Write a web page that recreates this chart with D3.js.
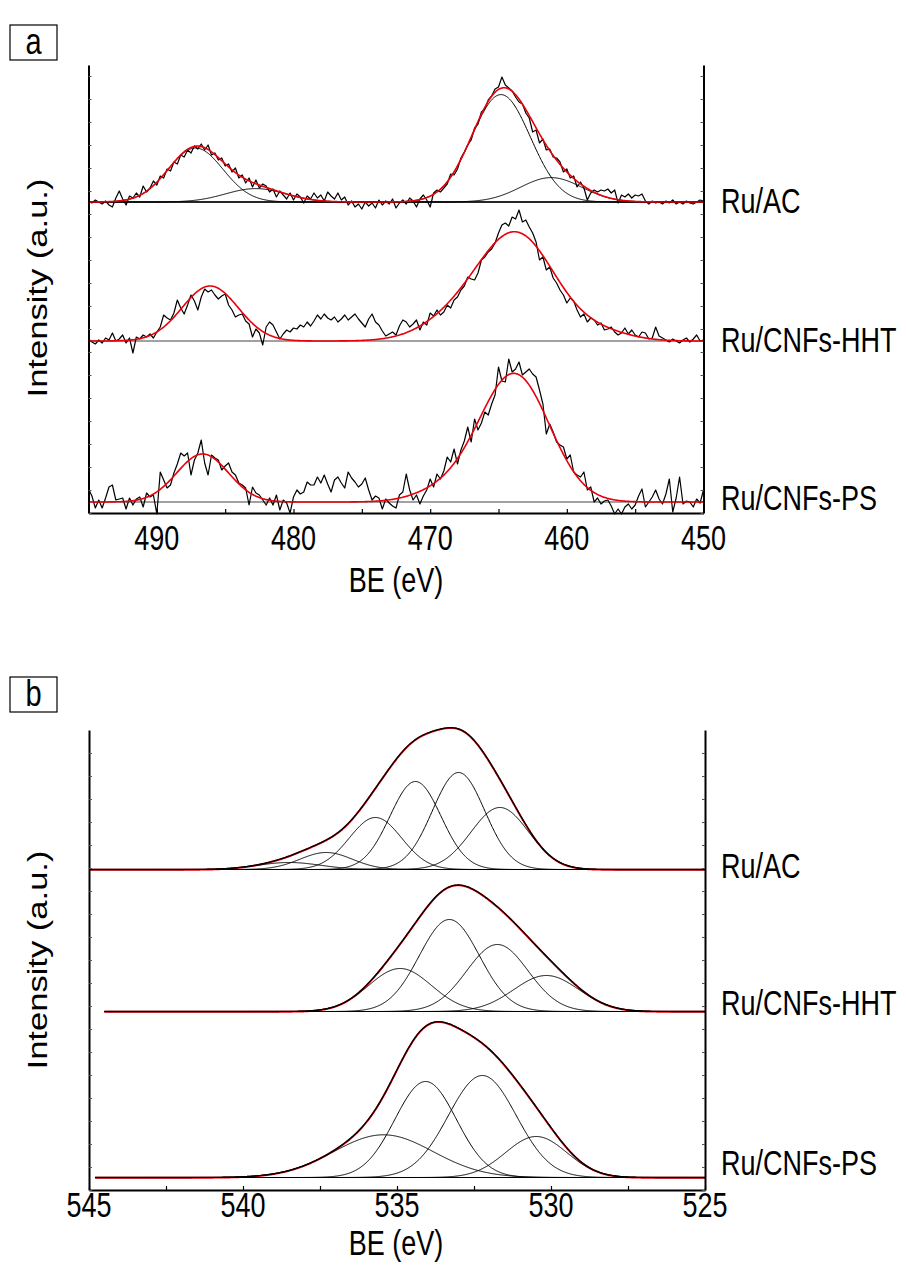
<!DOCTYPE html>
<html><head><meta charset="utf-8">
<script src="https://cdn.jsdelivr.net/npm/d3@7"></script>
<style>
body{margin:0;background:#fff}
svg text{font-family:"Liberation Sans",Arial,sans-serif;fill:#000}
</style>
</head><body>
<svg id="c" width="906" height="1266"></svg>
<script>
// ---------- DATA ----------
const samples = ["Ru/AC", "Ru/CNFs-HHT", "Ru/CNFs-PS"];
const panelLetters = ["a", "b"];
const axisTitleX = "BE (eV)";
const axisTitleY = "Intensity (a.u.)";

// Panel a : Ru 3d region
const ru3dDomain = [495, 450];
const ru3dMajorTicks = [490, 480, 470, 460, 450];
const ru3dMinorTicks = [495, 490, 485, 480, 475, 470, 465, 460, 455, 450];
const ru3dOffsets = [311, 172, 11];           // vertical stacking (intensity units)

// raw spectra, 495 -> 450 eV, equal steps
const rawAC = [
 1,-1,2,0,-2,1,-3,-5,4,11,
 3,-3,6,4,9,5,16,10,14,21,
 17,26,24,33,31,40,38,47,45,52,
 49,56,53,58,52,57,47,49,42,44,
 36,38,30,34,24,27,19,24,15,22,
 14,18,16,10,13,5,11,7,3,9,
 2,8,5,-1,6,3,9,4,7,1,
 10,6,3,9,2,5,-3,1,-5,-2,
 -7,0,-4,-1,-6,2,-3,1,-2,3,
 -6,-1,2,-2,4,1,-5,3,7,2,
 -5,9,12,10,14,18,28,27,33,44,
 50,57,62,74,78,90,93,102,106,113,
 115,125,117,114,111,105,100,98,89,84,
 70,72,59,63,52,53,45,44,40,30,
 33,24,26,15,20,14,2,9,12,10,
 12,11,13,9,12,-1,7,5,8,4,
 7,6,8,1,-2,1,-1,0,-2,1,
 -1,2,-2,0,-2,1,-1,-2,0,2,
 1];
const rawHHT = [
 2,-1,-3,1,-2,3,1,8,0,2,
 6,-2,3,-12,4,2,6,4,7,3,
 9,14,26,23,21,28,41,33,27,36,
 46,40,31,44,52,49,51,46,42,45,
 47,36,31,24,26,27,20,17,4,12,
 8,-4,14,19,16,9,2,7,11,9,
 13,12,16,14,19,15,20,26,22,27,
 23,21,24,19,22,26,21,24,27,22,
 18,14,22,27,19,16,10,5,7,9,
 6,15,21,19,14,17,21,11,19,16,
 28,25,31,26,29,36,33,41,44,51,
 55,64,62,61,68,81,84,89,92,98,
 108,116,118,115,124,122,131,119,121,114,
 108,99,81,84,71,74,63,58,51,46,
 38,43,40,31,24,27,19,23,21,16,
 18,11,12,14,9,6,8,13,7,11,
 6,4,9,8,2,3,14,5,3,1,
 -1,2,0,-2,1,3,-1,2,6,0,
 1];
const rawPS = [
 13,6,-6,2,-6,4,15,17,2,3,
 4,-7,4,-3,3,5,-5,9,5,7,
 -12,30,22,14,17,29,38,49,46,49,
 27,42,49,62,39,27,47,44,42,32,
 36,39,30,27,19,17,14,-3,15,9,
 7,2,-3,4,-3,7,-8,2,-1,-11,
 5,12,8,10,20,17,17,25,19,27,
 18,10,22,25,19,14,30,24,20,15,
 18,24,12,2,6,4,-7,3,-1,-4,
 -6,7,10,28,12,2,7,-2,6,12,
 23,15,28,23,31,45,40,53,38,52,
 61,75,60,83,72,79,90,87,98,107,
 135,121,120,143,130,133,140,127,130,133,
 128,125,112,98,68,78,70,60,57,55,
 43,47,30,27,25,30,12,15,0,4,
 -2,1,2,-4,-12,-7,-12,-5,-2,-7,
 -3,6,13,-5,0,5,12,3,-2,8,
 23,-10,4,25,-2,1,0,-5,3,-1,
 12];

// fitted components (centre eV, height, FWHM eV)
const ru3dAcCenters = [487.16, 482.77, 464.82, 461.15];
const ru3dAcHeights = [54, 13.4, 107.4, 24.4];
const ru3dAcFwhm    = [4.71, 5.18, 5.06, 5.27];
const ru3dHhtCenters = [486.1, 468.0, 463.6, 457.5];
const ru3dHhtHeights = [55, 20, 104, 8];
const ru3dHhtFwhm    = [4.83, 6.12, 6.48, 5.18];
const ru3dPsCenters = [486.65, 469.0, 463.85];
const ru3dPsHeights = [48, 10, 128];
const ru3dPsFwhm    = [4.47, 5.18, 6.03];

// Panel b : O 1s region
const o1sDomain = [545, 525];
const o1sMajorTicks = [545, 540, 535, 530, 525];
const o1sMinorTicks = [545, 542.5, 540, 537.5, 535, 532.5, 530, 527.5, 525];
const o1sOffsets = [320.5, 178.5, 12.5];
const o1sStart = [545, 544.5, 544.8];
const o1sAcCenters = [538.5, 537.3, 535.7, 534.4, 533.0, 531.66];
const o1sAcHeights = [7, 17, 52, 88, 97, 62];
const o1sAcFwhm    = [2.4, 2.0, 2.0, 1.95, 2.0, 2.2];
const o1sHhtCenters = [534.9, 533.3, 531.74, 530.15];
const o1sHhtHeights = [43, 92, 67, 36];
const o1sHhtFwhm    = [2.4, 2.3, 2.35, 2.5];
const o1sPsCenters = [535.44, 534.07, 532.23, 530.48];
const o1sPsHeights = [42.7, 96, 102, 41];
const o1sPsFwhm    = [3.8, 2.35, 2.6, 2.35];

// ---------- DRAW ----------
const svg = d3.select("#c");
const RED = "#e8000b";
const FS = 27, SY = 1.28;   // text size and vertical stretch of the original figure

function gauss(e, c, h, w) { return h * Math.exp(-4 * Math.LN2 * (e - c) * (e - c) / (w * w)); }
function comps(cs, hs, ws) { return cs.map((c, i) => ({c, h: hs[i], w: ws[i]})); }
function label(x, y, str, anchor, size, rot) {
  svg.append("text")
    .attr("transform", `translate(${x},${y}) scale(1,${SY})` + (rot ? " rotate(-90)" : ""))
    .attr("text-anchor", anchor).attr("font-size", size).text(str);
}

function frame(x, y, bottom, majors, minors, tickLen, labelY) {
  const gB = svg.append("g").attr("transform", `translate(0,${bottom})`)
    .call(d3.axisBottom(x).tickValues(minors).tickSizeInner(-tickLen).tickSizeOuter(0).tickFormat(""));
  gB.select(".domain").attr("stroke-width", 2);
  gB.selectAll(".tick line").attr("stroke-width", 1.2);
  majors.forEach(d => label(x(d), labelY, d, "middle", FS));
  const yt = d3.range(y.domain()[0], y.domain()[1], 23);
  const [xl, xr] = x.range();
  const gL = svg.append("g").attr("transform", `translate(${xl},0)`)
    .call(d3.axisLeft(y).tickValues(yt).tickSizeInner(-3).tickSizeOuter(0).tickFormat(""));
  gL.select(".domain").attr("stroke-width", 2);
  gL.selectAll(".tick line").attr("stroke", "#555");
  const gR = svg.append("g").attr("transform", `translate(${xr},0)`)
    .call(d3.axisRight(y).tickValues(yt).tickSizeInner(-3).tickSizeOuter(0).tickFormat(""));
  gR.select(".domain").attr("stroke-width", 2);
  gR.selectAll(".tick line").attr("stroke", "#555");
}

function letterBox(letter, x0, y0) {
  svg.append("rect").attr("x", x0).attr("y", y0).attr("width", 47).attr("height", 35)
    .attr("fill", "none").attr("stroke", "#000").attr("stroke-width", 1.2);
  label(x0 + 23.5, y0 + 29, letter, "middle", 29);
}

// ===== Panel a =====
const xa = d3.scaleLinear().domain(ru3dDomain).range([88.5, 703.5]);
const ya = d3.scaleLinear().domain([0, 448]).range([513, 65]);
const rawSets = [rawAC, rawHHT, rawPS];
const ru3dFits = [
  comps(ru3dAcCenters, ru3dAcHeights, ru3dAcFwhm),
  comps(ru3dHhtCenters, ru3dHhtHeights, ru3dHhtFwhm),
  comps(ru3dPsCenters, ru3dPsHeights, ru3dPsFwhm)
];
const gridA = d3.range(ru3dDomain[0], ru3dDomain[1] - 0.001, -0.05);
const labelDyA = [11, 11, 8];

rawSets.forEach((raw, k) => {
  const off = ru3dOffsets[k];
  const g = svg.append("g");
  g.append("line").attr("x1", xa(ru3dDomain[0])).attr("x2", xa(ru3dDomain[1]))
    .attr("y1", ya(off)).attr("y2", ya(off)).attr("stroke", k === 0 ? "#000" : "#444").attr("stroke-width", 1.2);
  if (k === 0) {
    ru3dFits[k].forEach(p => {
      g.append("path").datum(gridA).attr("fill", "none").attr("stroke", "#000").attr("stroke-width", 1)
        .attr("d", d3.line().x(e => xa(e)).y(e => ya(off + gauss(e, p.c, p.h, p.w))));
    });
  }
  const n = raw.length;
  const step = (ru3dDomain[0] - ru3dDomain[1]) / (n - 1);
  g.append("path").datum(raw).attr("fill", "none").attr("stroke", "#000").attr("stroke-width", 1.2)
    .attr("stroke-linejoin", "round")
    .attr("d", d3.line().x((v, i) => xa(ru3dDomain[0] - i * step)).y(v => ya(off + v)));
  g.append("path").datum(gridA).attr("fill", "none").attr("stroke", RED).attr("stroke-width", 1.6)
    .attr("d", d3.line().x(e => xa(e)).y(e => ya(off + d3.sum(ru3dFits[k], p => gauss(e, p.c, p.h, p.w)))));
  label(721, ya(off) + labelDyA[k], samples[k], "start", FS);
});
frame(xa, ya, 513, ru3dMajorTicks, ru3dMinorTicks, 4, 550);
label(396, 592, axisTitleX, "middle", FS);
label(47, 288, axisTitleY, "middle", FS, true);
letterBox(panelLetters[0], 10, 25);

// ===== Panel b =====
const xb = d3.scaleLinear().domain(o1sDomain).range([89, 705]);
const yb = d3.scaleLinear().domain([0, 460]).range([1190, 730]);
const o1sFits = [
  comps(o1sAcCenters, o1sAcHeights, o1sAcFwhm),
  comps(o1sHhtCenters, o1sHhtHeights, o1sHhtFwhm),
  comps(o1sPsCenters, o1sPsHeights, o1sPsFwhm)
];
const labelDyB = [8, 3, -3];
o1sFits.forEach((fit, k) => {
  const off = o1sOffsets[k];
  const grid = d3.range(o1sStart[k], o1sDomain[1] - 0.001, -0.02);
  const env = e => d3.sum(fit, p => gauss(e, p.c, p.h, p.w));
  const g = svg.append("g");
  g.append("path").datum(grid).attr("fill", "none").attr("stroke", RED).attr("stroke-width", 1.9)
    .attr("d", d3.line().x(e => xb(e)).y(e => yb(off + env(e) - 0.3)));
  g.append("line").attr("x1", xb(o1sStart[k])).attr("x2", xb(o1sDomain[1]))
    .attr("y1", yb(off)).attr("y2", yb(off)).attr("stroke", "#000").attr("stroke-width", 1.2);
  fit.forEach(p => {
    g.append("path").datum(grid).attr("fill", "none").attr("stroke", "#000").attr("stroke-width", 1)
      .attr("d", d3.line().x(e => xb(e)).y(e => yb(off + gauss(e, p.c, p.h, p.w))));
  });
  g.append("path").datum(grid).attr("fill", "none").attr("stroke", "#000").attr("stroke-width", 1.3)
    .attr("d", d3.line().x(e => xb(e)).y(e => yb(off + env(e))));
  label(721, yb(off) + labelDyB[k], samples[k], "start", FS);
});
frame(xb, yb, 1190, o1sMajorTicks, o1sMinorTicks, 4, 1217);
label(396, 1255, axisTitleX, "middle", FS);
label(47, 960, axisTitleY, "middle", FS, true);
letterBox(panelLetters[1], 10, 677);
</script>
</body></html>
